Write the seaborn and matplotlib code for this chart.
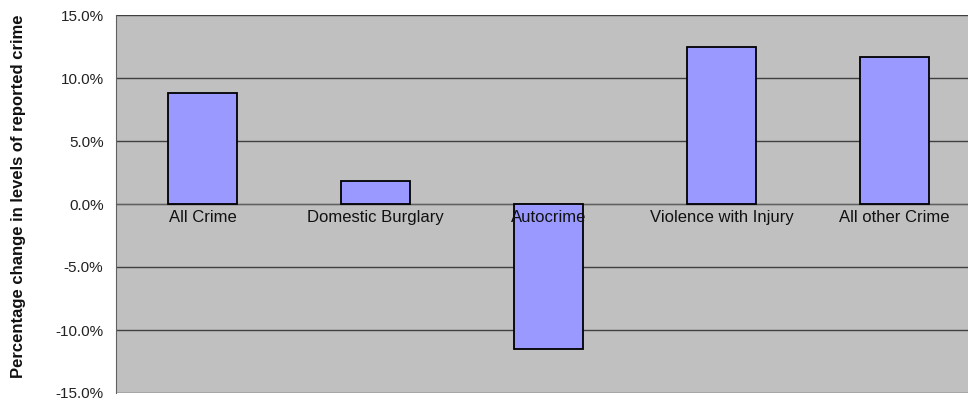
import matplotlib
matplotlib.use("Agg")
import matplotlib.pyplot as plt
import seaborn as sns
import pandas as pd
from matplotlib.ticker import FuncFormatter, FixedLocator

categories = ["All Crime", "Domestic Burglary", "Autocrime",
              "Violence with Injury", "All other Crime"]
pct_change = [8.8, 1.8, -11.5, 12.5, 11.7]
y_ticks = [-15, -10, -5, 0, 5, 10, 15]

df = pd.DataFrame({"category": categories, "change": pct_change})

sns.set_style("white")
plt.rcParams["font.family"] = ["Liberation Sans", "DejaVu Sans"]

fig = plt.figure(figsize=(9.68, 4.0), dpi=100)
# plot area runs past the right edge in the original
ax = fig.add_axes([116 / 968, 7 / 400, 865 / 968, 378 / 400])

sns.barplot(data=df, x="category", y="change", color="#9999ff",
            saturation=1, width=0.4, edgecolor="black", linewidth=1.3,
            ax=ax, zorder=3)

ax.set_facecolor("#c0c0c0")
ax.set_xlim(-0.5, 4.5)
ax.set_ylim(-15, 15)
ax.set_yticks(y_ticks)
ax.yaxis.set_major_formatter(FuncFormatter(lambda v, p: f"{v:.1f}%"))

# gridlines drawn by hand so the category labels can sit on top of the bars
for t in y_ticks:
    ax.axhline(t, color="#404040", linewidth=1.0, zorder=1)
ax.xaxis.set_zorder(4)

for s in ["top", "right"]:
    ax.spines[s].set_visible(False)
ax.spines["left"].set_color("#606060")
ax.spines["bottom"].set_position(("data", 0))
ax.spines["bottom"].set_color("#606060")
ax.spines["bottom"].set_zorder(2)

ax.tick_params(axis="y", length=6, color="#606060", labelsize=11,
               labelcolor="#222222", pad=3)
ax.tick_params(axis="x", which="major", length=0, labelsize=12,
               labelcolor="#111111", pad=4)
ax.xaxis.set_minor_locator(FixedLocator([0.5, 1.5, 2.5, 3.5]))
ax.tick_params(axis="x", which="minor", length=4, color="#606060")

ax.set_xlabel("")
ax.set_ylabel("Percentage change in levels of reported crime",
              fontsize=12, fontweight="bold", color="#111111")
ax.yaxis.set_label_coords(-0.104, 0.52)

fig.savefig("out.png", dpi=100)
